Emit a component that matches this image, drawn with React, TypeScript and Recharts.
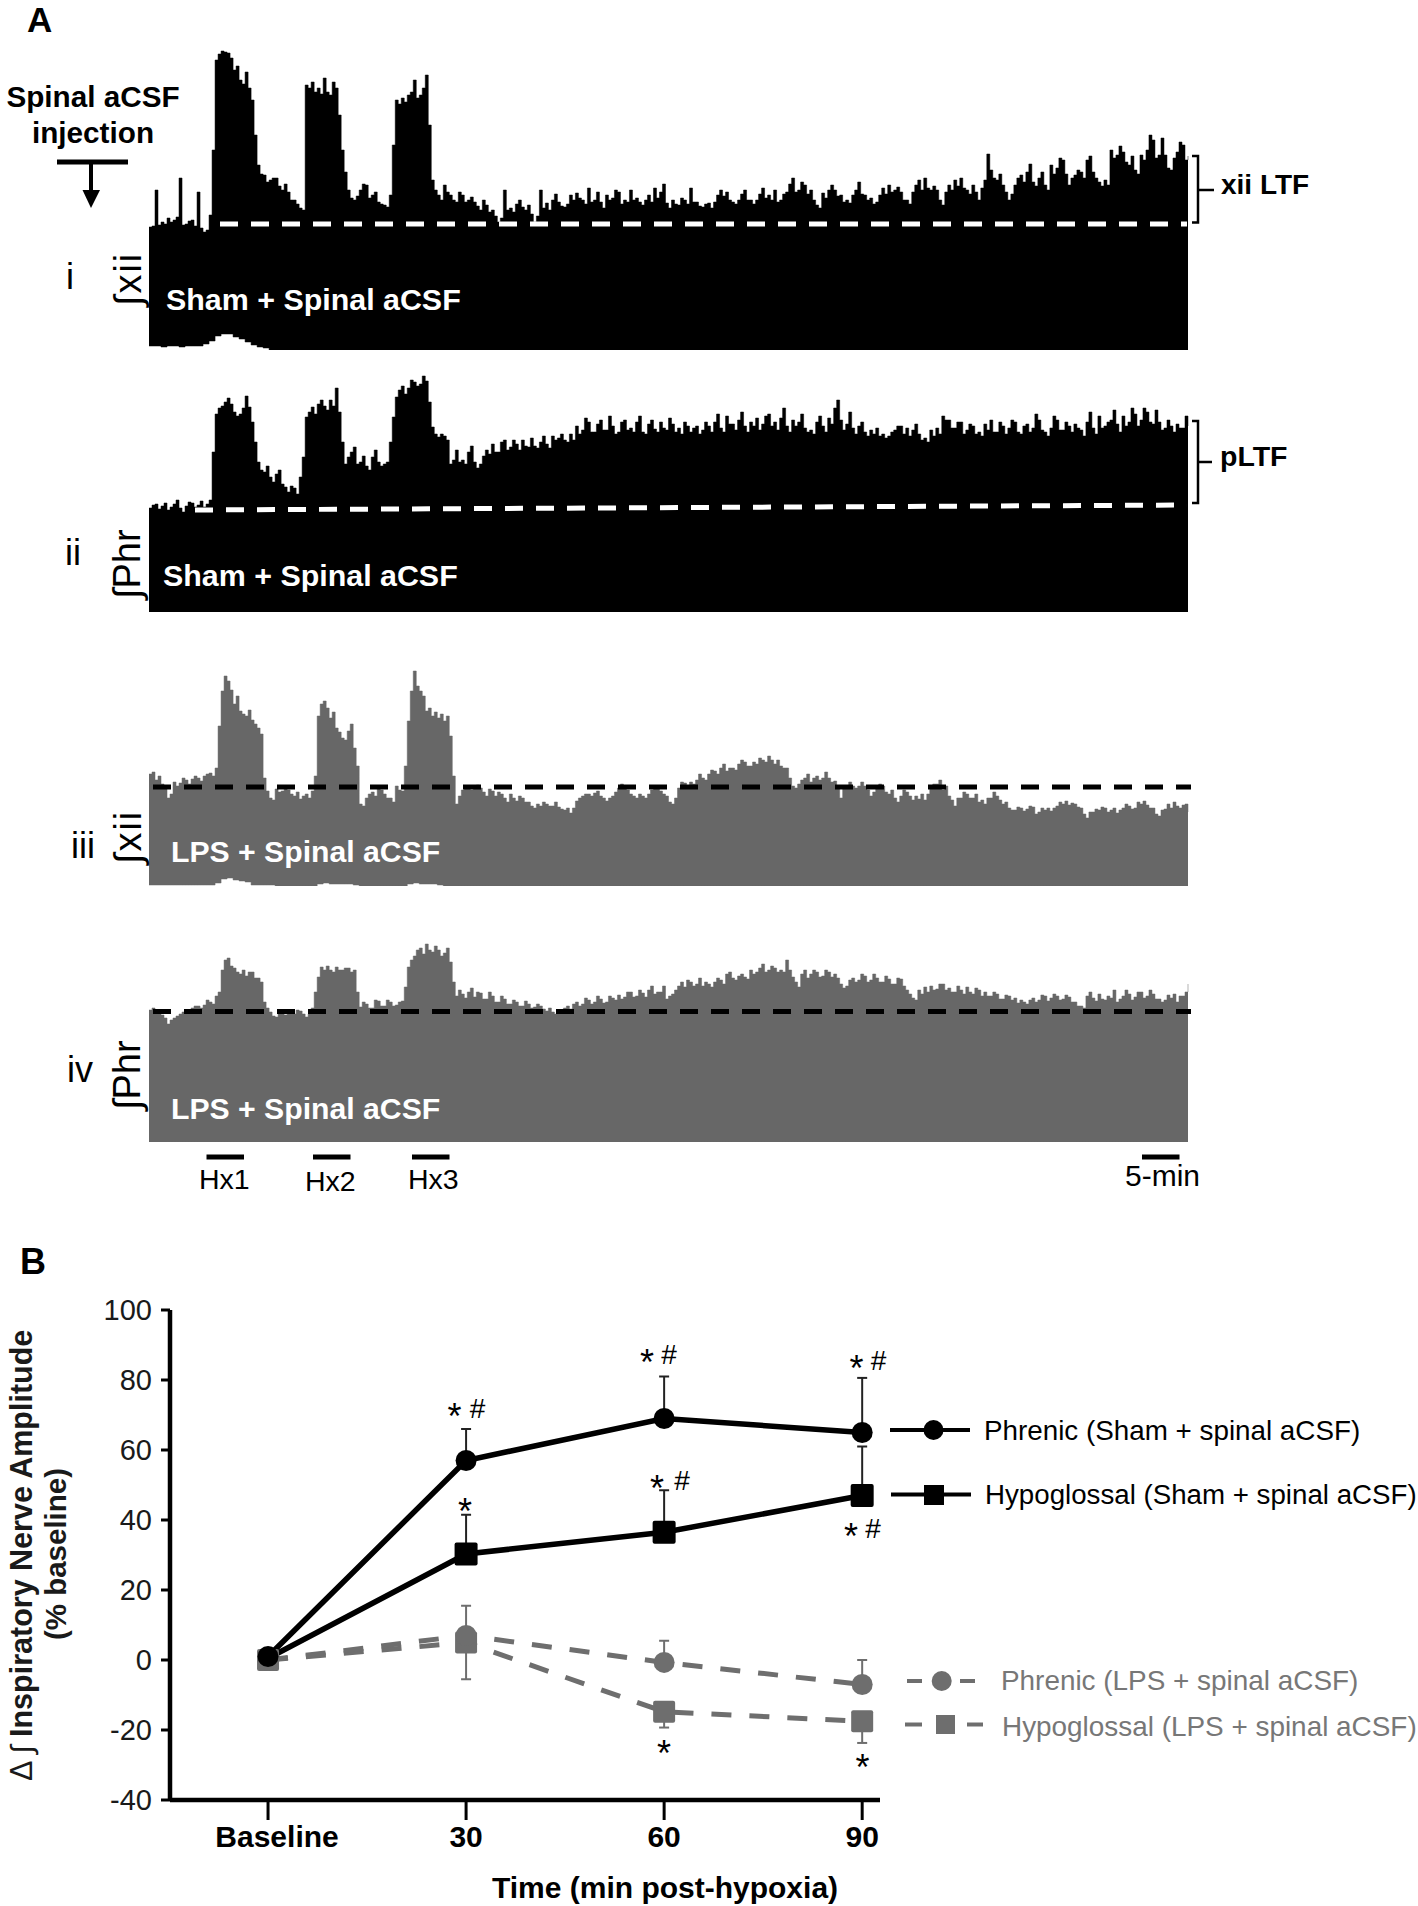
import React from "react";
import { Area, AreaChart, ErrorBar, Line, LineChart, ReferenceLine, XAxis, YAxis } from "recharts";

const FONT = "'Liberation Sans', Arial, sans-serif";
const BLACK = "#000000";
const TRACE_GRAY = "#676767";
const SERIES_GRAY = "#6e6e6e";

// Panel A: upper envelope of each integrated nerve trace (arbitrary units)
const traceITop = [
  123,124, 160,125, 128,126, 132,128, 130,133, 172,125, 126,129, 130,124, 158,122, 118,120,
  135,200, 290,296, 299,298, 297,292, 280,284, 270,266, 278,262, 250,215, 185,176, 175,168,
  170,172, 172,164, 160,166, 158,150, 150,146, 142,140, 265,262, 268,258, 262,256, 272,258,
  255,268, 262,235, 200,178, 160,152, 150,154, 160,166, 165,152, 155,158, 148,146, 145,143,
  155,205, 250,246, 252,248, 255,258, 270,252, 255,262, 275,225, 170,160, 155,150, 165,158,
  155,150, 148,158, 155,148, 150,153, 148,144, 140,150, 145,138, 140,134, 128,132, 160,140,
  142,138, 146,150, 143,140, 145,136, 128,134, 160,142, 147,140, 150,156, 148,144, 143,146,
  155,150, 157,152, 150,146, 162,148, 150,158, 148,142, 155,150, 152,160, 158,146, 150,148,
  160,150, 152,148, 145,150, 155,148, 162,152, 158,166, 147,142, 150,146, 145,152, 150,146,
  162,148, 148,144, 143,146, 147,142, 148,155, 160,154, 158,150, 148,146, 150,156, 160,150,
  150,146, 150,156, 162,152, 155,150, 160,148, 150,156, 158,166, 172,158, 160,168, 165,156,
  160,150, 145,142, 157,152, 160,165, 160,154, 155,148, 150,147, 155,160, 168,156, 155,150,
  152,146, 148,155, 162,156, 165,158, 160,163, 158,150, 150,146, 158,165, 170,160, 172,162,
  160,164, 160,150, 145,158, 165,160, 170,164, 172,162, 160,156, 165,158, 150,162, 170,196,
  180,172, 170,176, 165,158, 150,156, 165,172, 175,168, 178,186, 168,164, 172,178, 165,160,
  185,176, 182,192, 190,176, 165,172, 175,180, 178,172, 190,194, 178,172, 168,164, 170,165,
  200,192, 195,204, 198,188, 185,194, 180,176, 195,190, 200,215, 210,192, 195,212, 195,182,
  180,192, 198,208, 205,190, 194,
];
const traceIBottom = [
  4, 4, 3, 4, 4, 3, 4, 4, 4, 6,
  9, 14, 16, 16, 13, 11, 8, 5, 3, 2,
];
const traceIITop = [
  104,107, 108,103, 106,109, 102,105, 108,112, 104,100, 106,110, 109,105, 107,111, 105,108,
  112,160, 198,204, 206,210, 214,208, 200,196, 198,204, 216,205, 190,170, 150,142, 140,146,
  135,130, 138,142, 128,125, 120,126, 124,118, 135,155, 195,200, 205,198, 208,212, 206,202,
  212,206, 224,200, 170,148, 155,160, 165,148, 150,156, 146,142, 155,162, 150,146, 148,150,
  170,195, 215,222, 226,218, 224,232, 230,226, 228,236, 231,210, 185,178, 175,178, 176,172,
  148,152, 162,150, 152,148, 160,166, 150,144, 148,156, 162,158, 168,160, 160,170, 172,162,
  165,172, 168,162, 172,166, 165,174, 166,164, 170,176, 168,164, 176,172, 174,178, 172,170,
  178,172, 186,178, 182,194, 190,180, 180,188, 192,182, 182,196, 186,178, 180,190, 192,182,
  184,180, 190,196, 180,178, 188,192, 183,180, 190,184, 182,194, 188,180, 184,178, 190,186,
  180,184, 186,178, 182,190, 186,180, 190,198, 184,180, 196,188, 188,182, 192,200, 186,180,
  190,186, 194,182, 188,196, 198,186, 190,182, 194,204, 186,180, 192,186, 190,198, 184,180,
  182,178, 190,196, 186,180, 194,188, 204,212, 192,182, 188,200, 184,178, 186,190, 180,176,
  182,178, 184,176, 178,174, 176,180, 182,186, 186,178, 184,176, 182,188, 178,172, 174,170,
  182,176, 184,178, 196,192, 192,184, 184,190, 190,178, 182,188, 186,178, 180,176, 188,182,
  192,180, 180,190, 186,178, 184,192, 190,180, 178,186, 188,180, 184,198, 192,182, 180,176,
  184,196, 192,182, 182,190, 186,180, 188,184, 182,176, 190,200, 184,178, 196,184, 186,190,
  192,202, 188,180, 196,186, 190,204, 198,186, 192,204, 200,190, 188,202, 190,182, 184,192,
  186,180, 188,184, 184,196, 186,
];
const traceIIITop = [
  112,114, 106,110, 102,100, 88,92, 104,100, 103,108, 106,102, 107,110, 108,105, 110,112,
  113,110, 118,160, 195,210, 205,196, 182,190, 175,172, 170,176, 166,162, 158,152, 108,95,
  88,86, 97,94, 95,98, 96,92, 90,94, 87,90, 92,88, 95,110, 170,182, 185,178,
  168,174, 158,154, 148,146, 155,162, 138,120, 82,80, 88,92, 94,90, 98,96, 92,88,
  88,84, 100,96, 95,120, 165,195, 215,200, 195,190, 175,178, 170,174, 168,172, 165,170,
  150,110, 82,90, 96,100, 100,96, 97,101, 98,94, 90,97, 95,90, 94,92, 88,84,
  92,88, 85,90, 88,84, 84,80, 78,82, 80,84, 82,80, 80,84, 79,77, 76,78,
  73,78, 85,88, 90,92, 92,90, 93,95, 90,88, 85,88, 90,94, 98,102, 100,96,
  92,90, 88,92, 90,88, 92,96, 100,98, 95,92, 90,84, 82,88, 98,104, 103,100,
  104,102, 106,112, 108,106, 112,116, 115,112, 118,122, 115,118, 118,116, 122,126, 124,120,
  120,124, 122,128, 126,124, 130,126, 122,126, 120,118, 118,108, 100,98, 102,106, 108,112,
  104,108, 110,106, 108,114, 108,104, 105,100, 88,98, 100,104, 100,98, 100,104, 100,96,
  90,94, 98,102, 100,94, 92,96, 88,84, 90,96, 94,90, 86,90, 87,92, 86,92,
  98,102, 102,106, 96,100, 90,86, 80,88, 88,94, 92,88, 88,92, 84,86, 82,88,
  88,94, 90,86, 82,84, 78,76, 76,79, 78,75, 77,80, 79,72, 74,78, 76,78,
  75,78, 80,84, 82,85, 81,83, 82,79, 78,72, 68,74, 74,77, 76,79, 78,74,
  76,78, 73,76, 78,82, 80,77, 78,84, 82,85, 81,78, 78,72, 70,76, 77,82,
  78,84, 80,78, 81,82, 74,
];
const traceIIIBottom = [
  1, 1, 1, 1, 1, 1, 1, 1, 1, 1,
  1, 3, 7, 8, 6, 5, 4, 1, 1, 1,
  1, 0, 0, 0, 0, 0, 0, 0, 2, 3,
  2, 2, 2, 2, 1, 0, 0, 0, 0, 0,
  0, 0, 0, 2, 3, 2, 2, 2, 1,
];
const traceIVTop = [
  132,134, 131,128, 127,124, 118,122, 124,126, 128,130, 130,128, 134,136, 136,134, 137,142,
  140,138, 146,150, 172,182, 184,176, 174,170, 168,172, 166,170, 170,164, 164,160, 140,134,
  130,126, 125,128, 130,127, 132,129, 128,132, 131,128, 125,128, 134,150, 165,175, 172,176,
  172,170, 175,172, 172,174, 174,170, 172,150, 135,140, 138,134, 134,142, 141,136, 136,142,
  140,136, 137,140, 141,155, 175,182, 186,192, 194,188, 198,192, 190,196, 192,186, 189,194,
  180,160, 146,152, 148,144, 150,154, 145,150, 149,143, 143,150, 146,140, 140,146, 143,138,
  138,142, 140,136, 136,141, 138,134, 135,138, 136,133, 131,134, 130,128, 130,132, 134,136,
  133,138, 140,136, 138,144, 142,138, 140,146, 143,139, 140,146, 144,142, 147,143, 145,150,
  150,145, 146,152, 149,145, 152,156, 148,150, 150,156, 143,146, 148,152, 156,160, 155,162,
  160,156, 158,164, 156,160, 158,155, 160,164, 162,158, 168,170, 164,162, 166,168, 165,163,
  172,168, 170,174, 178,170, 172,176, 174,170, 172,170, 182,172, 165,160, 155,168, 172,164,
  168,172, 170,165, 166,172, 170,165, 168,164, 158,154, 156,162, 164,160, 162,168, 166,160,
  162,168, 164,160, 160,166, 163,158, 158,164, 163,156, 152,148, 144,142, 152,148, 155,150,
  156,152, 153,158, 158,152, 154,150, 150,156, 152,148, 155,150, 148,154, 152,146, 150,146,
  146,150, 148,143, 143,147, 146,142, 144,139, 142,140, 138,142, 144,140, 142,147, 146,141,
  144,148, 146,142, 143,147, 145,140, 140,136, 136,134, 146,150, 144,141, 148,143, 142,146,
  144,152, 140,143, 146,152, 148,142, 145,150, 150,144, 146,152, 148,143, 143,140, 142,147,
  144,148, 140,146, 146,150, 158,
];

// Panel B
const timePoints = [0, 30, 60, 90];
const timeLabels = ["Baseline", "30", "60", "90"];
const yTicks = [-40, -20, 0, 20, 40, 60, 80, 100];
const phrenicSham = [1, 57, 69, 65];
const phrenicShamErr = [0, 9, 12, 15.6];
const hypoSham = [0.5, 30.3, 36.5, 47];
const hypoShamErr = [0, 11.2, 12, 14];
const phrenicLps = [0, 7, -0.7, -7];
const phrenicLpsErr = [0, 8.5, 6.2, 7];
const hypoLps = [0, 5, -14.8, -17.5];
const hypoLpsErr = [0, 10.5, 4.5, 6.2];

const range = (top: number[], bottom: number[]) =>
  top.map((v, i) => ({ t: i, band: [bottom[i >> 1] ?? 0, v] }));

const panelBData = timePoints.map((t, i) => ({
  t,
  phrenicSham: phrenicSham[i],
  hypoSham: hypoSham[i],
  phrenicLps: phrenicLps[i],
  hypoLps: hypoLps[i],
  phrenicShamE: i ? [0, phrenicShamErr[i]] : undefined,
  hypoShamE: i ? [0, hypoShamErr[i]] : undefined,
  phrenicLpsE: i ? [0, phrenicLpsErr[i]] : undefined,
  hypoLpsE: i ? [hypoLpsErr[i], 0] : undefined,
}));

function Trace(props: {
  top: number;
  left: number;
  bottomY: number;
  values: number[];
  bottom: number[];
  color: string;
  dash: string;
  dashFrom: [number, number];
  dashTo: [number, number];
  name: string;
}) {
  const { values, bottom, color, dash, dashFrom, dashTo, bottomY, top, left } = props;
  const step = 1039 / (values.length - 1);
  const height = bottomY - top;
  const toPoint = ([px, py]: [number, number]) => ({ x: (px - left) / step, y: bottomY - py });
  return (
    <div style={{ position: "absolute", left, top }}>
      <AreaChart
        width={1060}
        height={height}
        data={range(values, bottom)}
        margin={{ top: 0, right: 21, bottom: 0, left: 0 }}
      >
        <XAxis type="number" dataKey="t" domain={[0, values.length - 1]} hide />
        <YAxis type="number" domain={[0, height]} hide />
        <Area
          name={props.name}
          dataKey="band"
          type="stepAfter"
          fill={color}
          fillOpacity={1}
          stroke={color}
          strokeWidth={0.5}
          dot={false}
          activeDot={false}
          isAnimationActive={false}
        />
        <ReferenceLine
          ifOverflow="visible"
          segment={[toPoint(dashFrom), toPoint(dashTo)]}
          stroke={dash}
          strokeWidth={5}
          strokeDasharray="18 13"
        />
      </AreaChart>
    </div>
  );
}

const squareDot = (size: number, color: string, skipFirst = false) => (p: any) =>
  skipFirst && p.index === 0 ? (
    <g key={p.index} />
  ) : (
    <rect
      key={p.index}
      x={p.cx - size / 2}
      y={p.cy - size / 2}
      width={size}
      height={size}
      rx={2}
      fill={color}
    />
  );
const circleDot = (r: number, color: string) => (p: any) => (
  <circle key={p.index} cx={p.cx} cy={p.cy} r={r} fill={color} />
);

const XTick = (p: any) => {
  const i = timePoints.indexOf(p.payload.value);
  const shift = i === 0 ? 9 : 0;
  return (
    <text
      x={p.x + shift}
      y={1847 - 1290}
      textAnchor="middle"
      fontFamily={FONT}
      fontWeight="bold"
      fontSize={30}
      fill={BLACK}
    >
      {timeLabels[i]}
    </text>
  );
};

function Overlay() {
  const t = (x: number, y: number, s: string, size: number, extra: any = {}) => (
    <text x={x} y={y} fontSize={size} fontFamily={FONT} fill={BLACK} {...extra}>
      {s}
    </text>
  );
  const bold = { fontWeight: "bold" };
  const mid = { textAnchor: "middle" };
  const white = { fontWeight: "bold", fill: "#ffffff" };
  const rot = (x: number, y: number, s: string, size: number, spacing = 0) => (
    <text x={x} y={y} fontSize={size} fontFamily={FONT} fill={BLACK} letterSpacing={spacing} transform={`rotate(-90 ${x} ${y})`}>
      {s}
    </text>
  );
  const star = (x: number, cy: number) => t(x, cy + 21, "*", 36, mid);
  const hash = (x: number, cy: number) => t(x, cy + 10, "#", 28, mid);
  return (
    <svg
      width={1418}
      height={1906}
      style={{ position: "absolute", left: 0, top: 0, pointerEvents: "none" }}
    >
      {t(27, 32, "A", 35, bold)}
      {t(93, 107, "Spinal aCSF", 29.7, { ...bold, ...mid })}
      {t(93, 143, "injection", 29.7, { ...bold, ...mid })}
      <line x1={57} x2={128} y1={162} y2={162} stroke={BLACK} strokeWidth={5} />
      <line x1={91} x2={91} y1={162} y2={194} stroke={BLACK} strokeWidth={4} />
      <polygon points="82.5,190 100,190 91,208" fill={BLACK} />

      {t(66, 289, "i", 36)}
      {t(65, 565, "ii", 36)}
      {t(71, 858, "iii", 36)}
      {t(67, 1082, "iv", 36)}
      {rot(141, 306, "∫xii", 38, 2)}
      {rot(140, 599, "∫Phr", 38)}
      {rot(141, 864, "∫xii", 38, 2)}
      {rot(140, 1110, "∫Phr", 38)}

      {t(166, 310, "Sham + Spinal aCSF", 30.4, white)}
      {t(163, 586, "Sham + Spinal aCSF", 30.4, white)}
      {t(171, 862, "LPS + Spinal aCSF", 30.2, white)}
      {t(171, 1119, "LPS + Spinal aCSF", 30.2, white)}

      <path d="M1192 156 H1198 V222.5 H1192 M1198 190 H1214" fill="none" stroke={BLACK} strokeWidth={2.5} />
      <path d="M1192 421 H1198 V503 H1192 M1198 462 H1212" fill="none" stroke={BLACK} strokeWidth={2.5} />
      {t(1221, 194, "xii LTF", 28, bold)}
      {t(1220, 466, "pLTF", 28.5, bold)}

      {[206.5, 313, 412, 1142].map((x) => (
        <line key={x} x1={x} x2={x + 37.5} y1={1157} y2={1157} stroke={BLACK} strokeWidth={5} />
      ))}
      {t(199, 1189, "Hx1", 28.5)}
      {t(305, 1191, "Hx2", 28.5)}
      {t(408, 1189, "Hx3", 28.5)}
      {t(1125, 1186, "5-min", 30)}

      {t(20, 1274, "B", 36, bold)}
      <text
        x={32}
        y={1781}
        fontSize={30.5}
        fontFamily={FONT}
        fill="#1a1a1a"
        transform="rotate(-90 32 1781)"
      >
        <tspan fontWeight="normal">Δ ∫ </tspan>
        <tspan fontWeight="bold">Inspiratory Nerve Amplitude</tspan>
      </text>
      <text
        x={66}
        y={1554}
        fontSize={29.5}
        fontFamily={FONT}
        fontWeight="bold"
        fill="#1a1a1a"
        textAnchor="middle"
        transform="rotate(-90 66 1554)"
      >
        (% baseline)
      </text>
      {t(665, 1898, "Time (min post-hypoxia)", 30, { ...bold, ...mid })}

      {star(454.5, 1408)}
      {hash(477.5, 1408)}
      {star(465, 1503)}
      {star(647, 1354)}
      {hash(669, 1354)}
      {star(657, 1480)}
      {hash(682, 1480)}
      {star(664, 1745)}
      {star(856.5, 1360)}
      {hash(878.5, 1360)}
      {star(851, 1528)}
      {hash(873, 1528)}
      {star(862.5, 1759)}

      <line x1={890} x2={970} y1={1430} y2={1430} stroke={BLACK} strokeWidth={4} />
      <circle cx={933.5} cy={1430} r={10} fill={BLACK} />
      {t(984, 1440, "Phrenic (Sham + spinal aCSF)", 27.8)}
      <line x1={891} x2={971} y1={1494.5} y2={1494.5} stroke={BLACK} strokeWidth={4} />
      <rect x={924} y={1485} width={20} height={20} fill={BLACK} />
      {t(985, 1504, "Hypoglossal (Sham + spinal aCSF)", 27.7)}

      <line x1={907} x2={922} y1={1681} y2={1681} stroke={SERIES_GRAY} strokeWidth={4} />
      <line x1={960} x2={975} y1={1681} y2={1681} stroke={SERIES_GRAY} strokeWidth={4} />
      <circle cx={941.7} cy={1681} r={10} fill={SERIES_GRAY} />
      {t(1001, 1690, "Phrenic (LPS + spinal aCSF)", 27.9, { fill: "#777777" })}
      <line x1={905} x2={922} y1={1724.5} y2={1724.5} stroke={SERIES_GRAY} strokeWidth={4} />
      <line x1={967} x2={983} y1={1724.5} y2={1724.5} stroke={SERIES_GRAY} strokeWidth={4} />
      <rect x={936} y={1715} width={19} height={19} fill={SERIES_GRAY} />
      {t(1002, 1736, "Hypoglossal (LPS + spinal aCSF)", 27.9, { fill: "#777777" })}
    </svg>
  );
}

export default function App() {
  return (
    <div style={{ position: "absolute", left: 0, top: 0, width: 1418, height: 1906, background: "#fff", overflow: "hidden" }}>
      <Trace name="xii sham" left={149} top={40} bottomY={350} values={traceITop} bottom={traceIBottom} color={BLACK} dash="#ffffff" dashFrom={[220, 224]} dashTo={[1187, 224]} />
      <Trace name="Phr sham" left={149} top={372} bottomY={612} values={traceIITop} bottom={[]} color={BLACK} dash="#ffffff" dashFrom={[195, 510]} dashTo={[1187, 505]} />
      <Trace name="xii LPS" left={149} top={666} bottomY={886} values={traceIIITop} bottom={traceIIIBottom} color={TRACE_GRAY} dash={BLACK} dashFrom={[153, 787]} dashTo={[1191, 787]} />
      <Trace name="Phr LPS" left={149} top={942} bottomY={1142} values={traceIVTop} bottom={[]} color={TRACE_GRAY} dash={BLACK} dashFrom={[153, 1011.5]} dashTo={[1191, 1011.5]} />

      <div style={{ position: "absolute", left: 0, top: 1290 }}>
        <LineChart
          width={900}
          height={610}
          data={panelBData}
          margin={{ top: 20, right: 20, bottom: 0, left: 0 }}
        >
          <XAxis
            type="number"
            dataKey="t"
            domain={[-14.85, 92.7]}
            ticks={timePoints}
            height={100}
            axisLine={{ stroke: BLACK, strokeWidth: 4.5 }}
            tickLine={{ stroke: BLACK, strokeWidth: 3 }}
            tickSize={20}
            tick={XTick}
            interval={0}
          />
          <YAxis
            type="number"
            domain={[-40, 100]}
            ticks={yTicks}
            width={170}
            axisLine={{ stroke: BLACK, strokeWidth: 4.5 }}
            tickLine={{ stroke: BLACK, strokeWidth: 3 }}
            tickSize={9}
            tickMargin={9}
            tick={{ fontSize: 29, fontFamily: FONT, fill: "#1a1a1a" }}
            interval={0}
          />
          <Line dataKey="hypoLps" stroke={SERIES_GRAY} strokeWidth={5} strokeDasharray="20 18" dot={squareDot(22, SERIES_GRAY)} activeDot={false} isAnimationActive={false}>
            <ErrorBar dataKey="hypoLpsE" direction="y" width={5} stroke={SERIES_GRAY} strokeWidth={2} />
          </Line>
          <Line dataKey="phrenicLps" stroke={SERIES_GRAY} strokeWidth={5} strokeDasharray="20 18" dot={circleDot(10.5, SERIES_GRAY)} activeDot={false} isAnimationActive={false}>
            <ErrorBar dataKey="phrenicLpsE" direction="y" width={5} stroke={SERIES_GRAY} strokeWidth={2} />
          </Line>
          <Line dataKey="hypoSham" stroke={BLACK} strokeWidth={5.5} dot={squareDot(23, BLACK, true)} activeDot={false} isAnimationActive={false}>
            <ErrorBar dataKey="hypoShamE" direction="y" width={5} stroke="#222222" strokeWidth={2} />
          </Line>
          <Line dataKey="phrenicSham" stroke={BLACK} strokeWidth={5.5} dot={circleDot(10.5, BLACK)} activeDot={false} isAnimationActive={false}>
            <ErrorBar dataKey="phrenicShamE" direction="y" width={5} stroke="#222222" strokeWidth={2} />
          </Line>
        </LineChart>
      </div>
      <Overlay />
    </div>
  );
}
